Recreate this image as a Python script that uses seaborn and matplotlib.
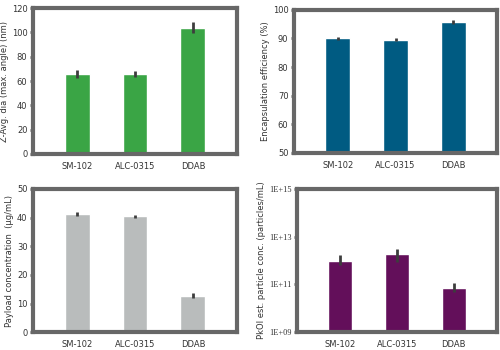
import numpy as np
import pandas as pd
import seaborn as sns
import matplotlib
matplotlib.use("Agg")
import matplotlib.pyplot as plt
from matplotlib.ticker import FixedLocator, FixedFormatter, NullLocator

lipids = ["SM-102", "ALC-0315", "DDAB"]

size_nm = [65.7, 65.7, 104.0]
size_err = [3.0, 2.5, 4.4]

encap_pct = [90.0, 89.6, 95.7]
encap_err = [0.5, 0.5, 0.6]

payload = [41.3, 40.5, 12.8]
payload_err = [0.7, 0.5, 0.7]

# log10 of particle concentration, with lower / upper bar ends
pkoi_log = [12.0, 12.26, 10.86]
pkoi_lo = [11.82, 11.92, 10.69]
pkoi_hi = [12.22, 12.5, 11.04]

sns.set_theme(style="white")
plt.rcParams["font.family"] = ["DejaVu Sans"]

fig = plt.figure(figsize=(5, 3.5), dpi=100)

frame = "#676767"
txt = "#333333"


def style_ax(ax, ylabel):
    for s in ax.spines.values():
        s.set_color(frame)
        s.set_linewidth(3)
    ax.set_xlim(-0.76, 2.76)
    ax.set_xlabel("")
    ax.set_ylabel(ylabel, fontsize=6, color=txt, labelpad=2)
    ax.tick_params(axis="x", length=0, pad=6, labelsize=6, labelcolor=txt)
    ax.tick_params(axis="y", length=2, width=2, color=frame, pad=2,
                   labelsize=6, labelcolor=txt, left=True)


def draw(ax, vals, err, color, ylabel, ylim, ticks):
    df = pd.DataFrame({"lipid": lipids, "val": vals})
    sns.barplot(data=df, x="lipid", y="val", color=color, width=0.43,
                errorbar=None, saturation=1, ax=ax)
    ax.errorbar(range(len(lipids)), vals, yerr=err, fmt="none",
                ecolor="#3d3d3d", elinewidth=2, capsize=0)
    ax.set_ylim(*ylim)
    ax.set_yticks(ticks)
    style_ax(ax, ylabel)


ax1 = fig.add_axes([0.066, 0.56, 0.408, 0.417])
draw(ax1, size_nm, size_err, "#3aa545", "Z-Avg. dia (max. angle) (nm)",
     (0, 120), range(0, 121, 20))

ax2 = fig.add_axes([0.588, 0.563, 0.406, 0.409])
draw(ax2, encap_pct, encap_err, "#005b82", "Encapsulation efficiency (%)",
     (50, 100), range(50, 101, 10))

ax3 = fig.add_axes([0.066, 0.051, 0.408, 0.409])
draw(ax3, payload, payload_err, "#b9bcbc", "Payload concentration  (µg/mL)",
     (0, 50), range(0, 51, 10))

ax4 = fig.add_axes([0.594, 0.051, 0.4, 0.409])
conc = [10 ** v for v in pkoi_log]
lo = [10 ** v for v in pkoi_lo]
hi = [10 ** v for v in pkoi_hi]
df4 = pd.DataFrame({"lipid": lipids, "val": conc})
sns.barplot(data=df4, x="lipid", y="val", color="#630f5a", width=0.43,
            errorbar=None, saturation=1, ax=ax4)
ax4.set_yscale("log")
ax4.vlines(range(len(lipids)), lo, hi, color="#3d3d3d", linewidth=2)
ax4.set_ylim(1e9, 1e15)
ax4.yaxis.set_major_locator(FixedLocator([1e9, 1e11, 1e13, 1e15]))
ax4.yaxis.set_major_formatter(FixedFormatter(["1E+09", "1E+11", "1E+13", "1E+15"]))
ax4.yaxis.set_minor_locator(NullLocator())
style_ax(ax4, "PkOI est. particle conc. (particles/mL)")
for t in ax4.get_yticklabels():
    t.set_family(["Liberation Serif", "DejaVu Serif"])
    t.set_fontsize(6)

fig.savefig("out.png", dpi=100)
